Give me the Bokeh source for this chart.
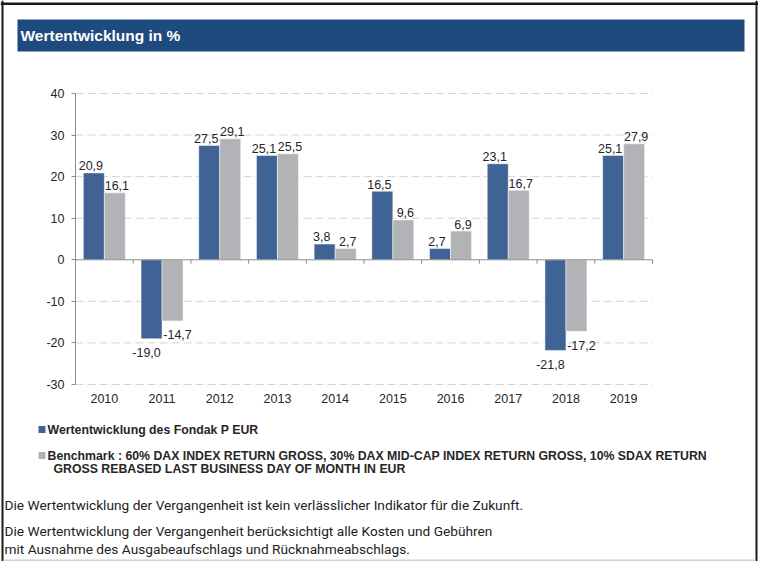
from bokeh.plotting import figure
from bokeh.models import (Range1d, ColumnDataSource, LinearAxis, FixedTicker,
                          PrintfTickFormatter)
from bokeh.core.properties import value
from bokeh.embed import file_html
from bokeh.resources import INLINE

# ---------------- data ----------------
years = ["2010", "2011", "2012", "2013", "2014", "2015", "2016", "2017", "2018", "2019"]
fund = [20.9, -19.0, 27.5, 25.1, 3.8, 16.5, 2.7, 23.1, -21.8, 25.1]
bench = [16.1, -14.7, 29.1, 25.5, 2.7, 9.6, 6.9, 16.7, -17.2, 27.9]
y_ticks = [-30, -20, -10, 0, 10, 20, 30, 40]

title_text = "Wertentwicklung in %"
legend_fund = "Wertentwicklung des Fondak P EUR"
legend_bench_1 = ("Benchmark : 60% DAX INDEX RETURN GROSS, 30% DAX MID-CAP INDEX "
                  "RETURN GROSS, 10% SDAX RETURN")
legend_bench_2 = "GROSS REBASED LAST BUSINESS DAY OF MONTH IN EUR"
footer_1 = "Die Wertentwicklung der Vergangenheit ist kein verlässlicher Indikator für die Zukunft."
footer_2 = "Die Wertentwicklung der Vergangenheit berücksichtigt alle Kosten und Gebühren"
footer_3 = "mit Ausnahme des Ausgabeaufschlags und Rücknahmeabschlags."

# ---------------- styles / layout ----------------
BLUE = "#3E6394"
GREY = "#B2B3B7"
HEADER = "#1F4A7E"
AXIS = "#8C8C8C"
GRID = "#D4D4D4"
TXT = "#262626"
FRAME = "#1A1A1A"
FONT = "Liberation Sans"
FOOT_FONT = "Roboto"

W, H = 758, 561
PLOT_L, PLOT_R, PLOT_T, PLOT_B = 75, 652, 93, 384   # chart area in page pixels
YMIN, YMAX = y_ticks[0], y_ticks[-1]
N = len(years)
BAR_W = 0.364
DX = BAR_W / 2

ux = (PLOT_R - PLOT_L) / N             # pixels per category
uy = (PLOT_B - PLOT_T) / (YMAX - YMIN)  # pixels per percent


def fmt(v):
    return f"{v:.1f}".replace(".", ",")


p = figure(width=W, height=H,
           x_range=Range1d(-PLOT_L / ux, (W - PLOT_L) / ux),
           y_range=Range1d(YMIN - (H - PLOT_B) / uy, YMAX + PLOT_T / uy),
           output_backend="svg", toolbar_location=None, title_location=None,
           x_axis_type=None, y_axis_type=None, min_border=0)
p.extra_x_ranges = {"px": Range1d(0, W)}
p.extra_y_ranges = {"py": Range1d(H, 0)}
p.grid.visible = False
p.outline_line_color = None
p.background_fill_color = "white"
p.border_fill_color = "white"

# ---------------- chart ----------------
centers = [i + 0.5 for i in range(N)]

# dashed horizontal grid
grid_vals = [t for t in y_ticks if t != 0]
p.segment(x0=[0] * len(grid_vals), x1=[N] * len(grid_vals), y0=grid_vals, y1=grid_vals,
          line_color=GRID, line_dash="8 4", line_width=1)

src = ColumnDataSource(dict(xf=[c - DX for c in centers], xb=[c + DX for c in centers],
                            fund=fund, bench=bench))
p.vbar(x="xf", top="fund", bottom=0, width=BAR_W, source=src,
       fill_color=BLUE, line_color="white", line_width=0.5)
p.vbar(x="xb", top="bench", bottom=0, width=BAR_W, source=src,
       fill_color=GREY, line_color="white", line_width=0.5)

# zero line with category-boundary ticks
p.segment(x0=[0], x1=[N], y0=[0], y1=[0], line_color=AXIS, line_width=1)
bounds = list(range(1, N + 1))
p.segment(x0=bounds, y0=[0] * N, x1=bounds, y1=[-4 / uy] * N,
          line_color=AXIS, line_width=1)

# y axis
yax = LinearAxis(fixed_location=0, bounds=(YMIN, YMAX), ticker=FixedTicker(ticks=y_ticks),
                 formatter=PrintfTickFormatter(format="%d"))
yax.axis_line_color = AXIS
yax.major_tick_line_color = AXIS
yax.major_tick_out = 4
yax.major_tick_in = 0
yax.minor_tick_line_color = None
yax.major_label_standoff = 7
yax.major_label_text_font = FONT
yax.major_label_text_font_size = "12.5px"
yax.major_label_text_color = TXT
p.add_layout(yax, "left")

# x axis (category labels under the chart)
xax = LinearAxis(fixed_location=YMIN, ticker=FixedTicker(ticks=centers),
                 major_label_overrides={c: y for c, y in zip(centers, years)})
xax.axis_line_color = None
xax.major_tick_line_color = None
xax.minor_tick_line_color = None
xax.major_label_standoff = 3
xax.major_label_text_font = FONT
xax.major_label_text_font_size = "12.5px"
xax.major_label_text_color = TXT
p.add_layout(xax, "below")

# value labels
for vals, dx, op, on in ((fund, -DX, -3, -5), (bench, DX, 2, 5)):
    ls = ColumnDataSource(dict(
        x=[c + dx for c in centers], val=vals, txt=[fmt(v) for v in vals],
        xo=[op if v >= 0 else on for v in vals],
        yo=[-7 if v >= 0 else 14 for v in vals],
    ))
    p.text(x="x", y="val", text="txt", source=ls, x_offset="xo", y_offset="yo",
           text_align="center", text_baseline="alphabetic", text_font=value(FONT),
           text_font_size="12.5px", text_color=TXT)

# ---------------- decorations (page-pixel coordinates) ----------------
px = dict(x_range_name="px", y_range_name="py")

# outer frame
p.quad(left=[1, 0, W - 3], right=[3, W, W - 1], top=[0, 2, 0], bottom=[H, 4.5, H],
       fill_color=FRAME, line_color=None, **px)
p.quad(left=[3], right=[W - 3], top=[559], bottom=[H], fill_color="#D0D0D0",
       line_color=None, **px)

# header
p.quad(left=[17], right=[744], top=[19], bottom=[51], fill_color=HEADER,
       line_color=None, **px)
p.text(x=[20], y=[35], text=[title_text], text_font=value(FONT), text_font_size="15.5px",
       text_font_style="bold", text_color="white", text_baseline="middle", **px)

# legend
p.quad(left=[38, 38], right=[45, 45], top=[425.5, 451.5], bottom=[432.5, 458.5],
       fill_color=[BLUE, GREY], line_color=None, **px)
p.text(x=[47, 47, 53], y=[429, 455, 468],
       text=[legend_fund, legend_bench_1, legend_bench_2],
       text_font=value(FONT), text_font_size="12.3px", text_font_style="bold",
       text_color=TXT, text_baseline="middle", **px)

# footer
p.text(x=[4, 4, 4], y=[504, 530, 548.5], text=[footer_1, footer_2, footer_3],
       text_font=value(FOOT_FONT), text_font_size="13.7px", text_color="#222222",
       text_baseline="middle", **px)

open("out.html", "w").write(file_html(p, INLINE))
